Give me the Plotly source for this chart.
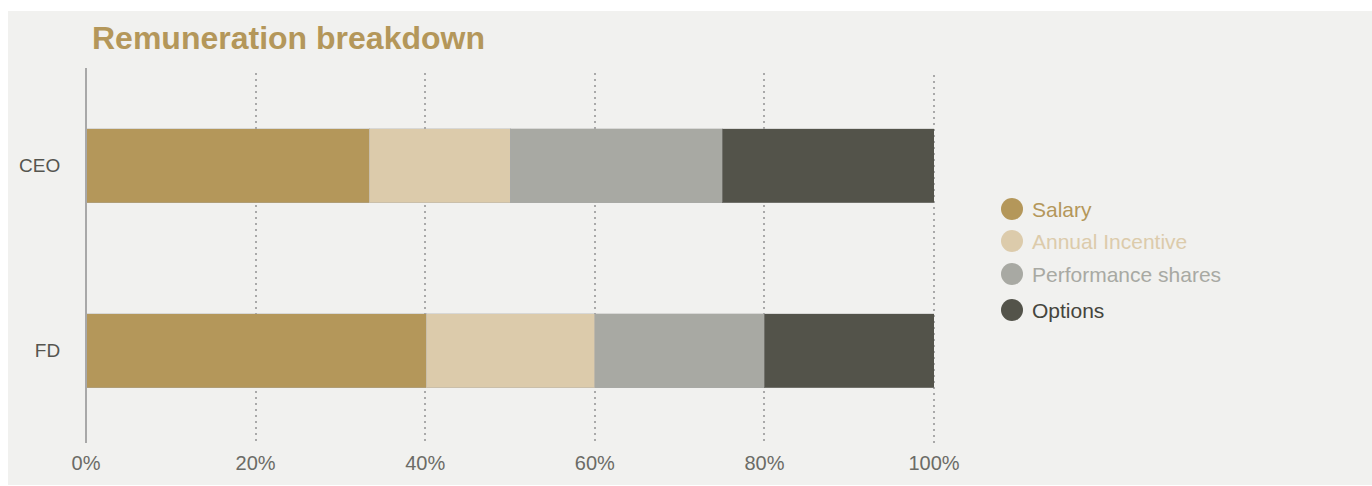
import plotly.graph_objects as go

# ---- data ----
categories = ["CEO", "FD"]
series_names = ["Salary", "Annual Incentive", "Performance shares", "Options"]
salary = [33.4, 40.1]
annual_incentive = [16.6, 19.9]
performance_shares = [25.0, 20.0]
options = [25.0, 20.0]
x_ticks = [0, 20, 40, 60, 80, 100]
x_tick_labels = [f"{v}%" for v in x_ticks]

colors = ["#b4975a", "#dccbab", "#a8a9a3", "#53534a"]
legend_text_colors = ["#b4975a", "#dccbab", "#a8a9a3", "#45453d"]

FONT = "Liberation Sans, Arial, sans-serif"
W, H = 1372, 486
L, R, T, B = 86, 438, 73, 43
PW, PH = W - L - R, H - T - B

def px_x(p):
    return (p - L) / PW

def px_y(p):
    return (H - B - p) / PH

fig = go.Figure()
for name, vals, col in zip(series_names, [salary, annual_incentive, performance_shares, options], colors):
    fig.add_trace(go.Bar(
        y=categories, x=vals, name=name, orientation="h",
        marker=dict(color=col, line=dict(color="rgba(170,170,170,0.35)", width=1)),
        showlegend=False, hoverinfo="x+y+name",
    ))

shapes = [dict(type="rect", xref="paper", yref="paper", layer="below",
               x0=px_x(8), x1=px_x(W + 5), y0=px_y(485), y1=px_y(11),
               fillcolor="#f1f1ef", line=dict(width=0)),
          # gridline at the right edge of the range (plotly omits it)
          dict(type="line", xref="paper", yref="paper", layer="below",
               x0=1, x1=1, y0=0, y1=1,
               line=dict(color="#a9a9a9", width=2, dash="2px,4px")),
          dict(type="line", xref="paper", yref="paper", layer="above",
               x0=0, x1=0, y0=px_y(443), y1=px_y(68),
               line=dict(color="#a8a8a8", width=2))]
annotations = []
leg_y = [209, 241, 274, 310]
for name, col, tcol, yy in zip(series_names, colors, legend_text_colors, leg_y):
    r = 11
    shapes.append(dict(type="circle", xref="paper", yref="paper",
                       x0=px_x(1012 - r), x1=px_x(1012 + r), y0=px_y(yy + r), y1=px_y(yy - r),
                       fillcolor=col, line=dict(width=0)))
    annotations.append(dict(xref="paper", yref="paper", x=px_x(1030), y=px_y(yy),
                            xanchor="left", yanchor="middle", showarrow=False, text=name,
                            font=dict(family=FONT, size=21, color=tcol)))

fig.update_layout(
    template="none",
    width=W, height=H, autosize=False,
    margin=dict(l=L, r=R, t=T, b=B, pad=0),
    paper_bgcolor="white", plot_bgcolor="rgba(0,0,0,0)",
    barmode="stack", bargap=0.6, showlegend=False,
    title=dict(text="<b>Remuneration breakdown</b>", x=92 / W, xanchor="left", xref="container",
               y=1 - 38 / H, yanchor="middle", yref="container", automargin=False,
               font=dict(family=FONT, size=32, color="#b4975a")),
    xaxis=dict(range=[0, 100], tickmode="array", tickvals=x_ticks, ticktext=x_tick_labels,
               automargin=False,
               showgrid=True, gridcolor="#a9a9a9", gridwidth=2, griddash="2px,4px",
               zeroline=False, showline=False, ticks="outside", ticklen=2,
               tickcolor="rgba(0,0,0,0)",
               tickfont=dict(family=FONT, size=20, color="#6b6b66")),
    yaxis=dict(autorange="reversed", automargin=False, showgrid=False, zeroline=False,
               showline=False, ticks="outside", ticklen=21, tickcolor="rgba(0,0,0,0)",
               tickfont=dict(family=FONT, size=19, color="#55554f")),
    shapes=shapes, annotations=annotations,
    font=dict(family=FONT),
)

fig.write_html("out.html")
